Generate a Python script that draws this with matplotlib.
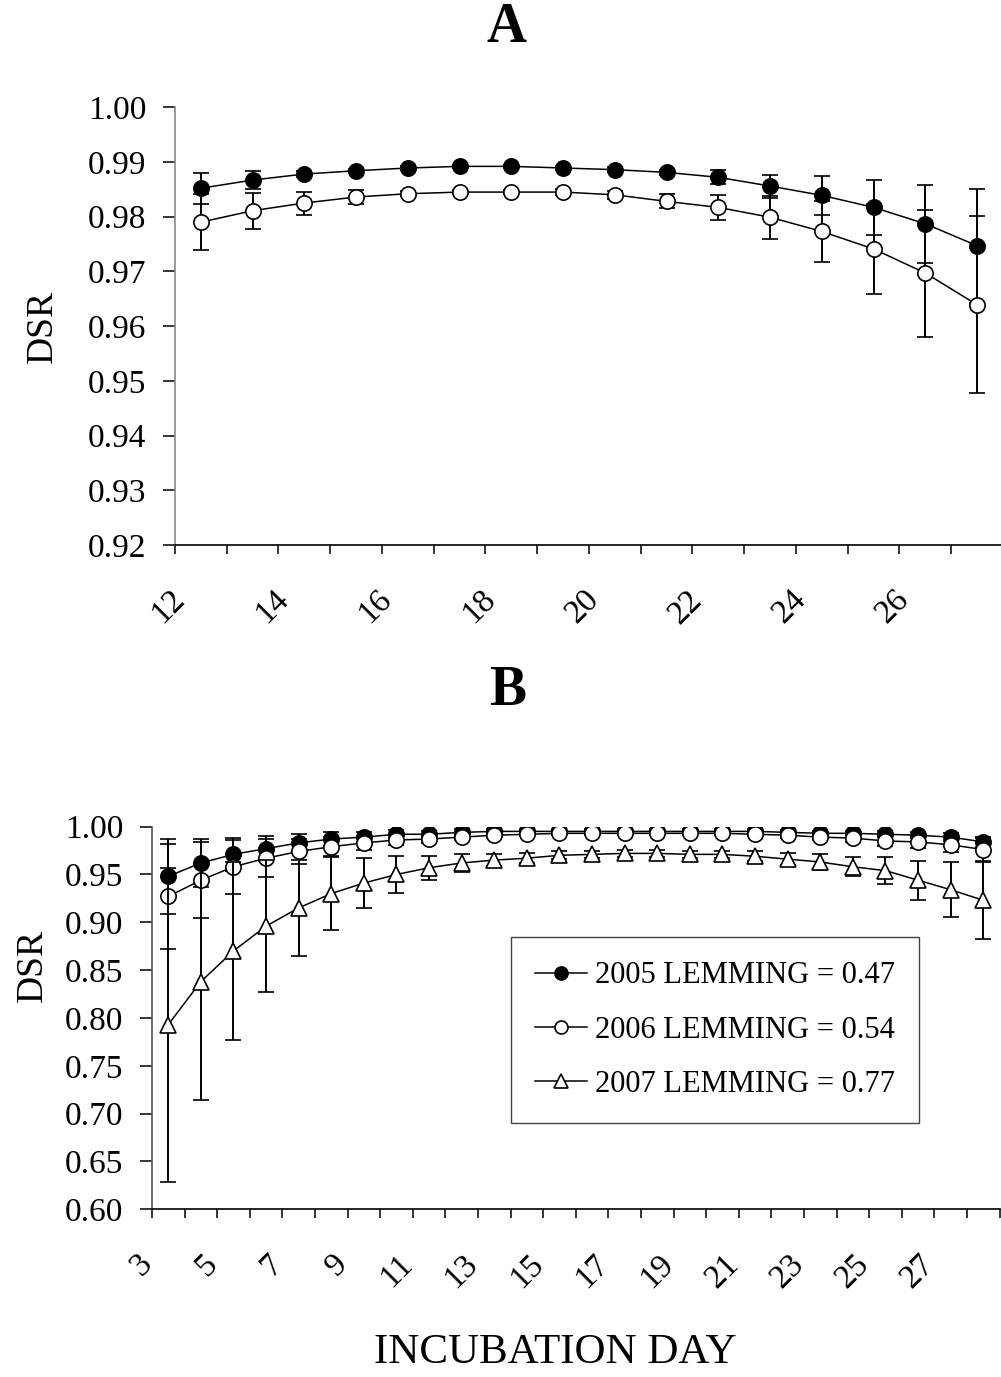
import numpy as np
import matplotlib.pyplot as plt
from matplotlib.ticker import FixedLocator, NullFormatter, FormatStrFormatter
from matplotlib.transforms import ScaledTranslation

plt.rcParams['font.family'] = ['Liberation Serif', 'DejaVu Serif']

# ---- panel A data (incubation days 12..27) ----
days_a = list(range(12, 28))
a05 = [0.9852, 0.9867, 0.9878, 0.9884, 0.9889, 0.9892, 0.9892, 0.9889,
       0.9886, 0.9881, 0.9872, 0.9856, 0.9839, 0.9817, 0.9787, 0.9747]
a05_err = [0.0028, 0.0016, 0.0006, 0.0004, 0.0003, 0.0003, 0.0003, 0.0003,
           0.0004, 0.0005, 0.0013, 0.0021, 0.0035, 0.0050, 0.0071, 0.0104]
a06 = [0.9790, 0.9811, 0.9825, 0.9836, 0.9842, 0.9845, 0.9845, 0.9845,
       0.9840, 0.9828, 0.9817, 0.9799, 0.9773, 0.9741, 0.9697, 0.9639]
a06_err = [0.0051, 0.0033, 0.0021, 0.0013, 0.0005, 0.0004, 0.0004, 0.0005,
           0.0007, 0.0013, 0.0023, 0.0039, 0.0055, 0.0083, 0.0116, 0.0162]

# ---- panel B data (incubation days 3..28) ----
days_b = list(range(3, 29))
b05 = [0.948, 0.962, 0.971, 0.977, 0.983, 0.987, 0.989, 0.992, 0.992, 0.994,
       0.995, 0.995, 0.995, 0.995, 0.995, 0.995, 0.995, 0.995, 0.995, 0.994,
       0.993, 0.993, 0.992, 0.991, 0.989, 0.984]
b05_err = [0.039, 0.025, 0.017, 0.013, 0.009, 0.007, 0.005, 0.004, 0.003, 0.003,
           0.002, 0.002, 0.002, 0.002, 0.002, 0.002, 0.002, 0.002, 0.002, 0.002,
           0.002, 0.002, 0.003, 0.003, 0.004, 0.005]
b06 = [0.927, 0.944, 0.958, 0.967, 0.974, 0.979, 0.983, 0.986, 0.987, 0.989,
       0.991, 0.992, 0.993, 0.993, 0.993, 0.993, 0.993, 0.993, 0.992, 0.991,
       0.989, 0.988, 0.985, 0.984, 0.981, 0.976]
b06_err = [0.055, 0.040, 0.028, 0.020, 0.0135, 0.010, 0.007, 0.005, 0.004, 0.003,
           0.003, 0.002, 0.002, 0.002, 0.002, 0.002, 0.002, 0.002, 0.002, 0.003,
           0.003, 0.004, 0.005, 0.006, 0.008, 0.012]
b07 = [0.793, 0.838, 0.870, 0.896, 0.915, 0.930, 0.941, 0.950, 0.957, 0.962,
       0.965, 0.967, 0.970, 0.971, 0.972, 0.972, 0.971, 0.971, 0.969, 0.966,
       0.963, 0.958, 0.954, 0.944, 0.934, 0.923]
b07_err = [0.164, 0.124, 0.093, 0.069, 0.050, 0.038, 0.026, 0.019, 0.0125, 0.009,
           0.006, 0.005, 0.004, 0.004, 0.004, 0.004, 0.004, 0.004, 0.005, 0.006,
           0.008, 0.010, 0.0145, 0.0205, 0.029, 0.040]

years = ['2005', '2006', '2007']
lemming = [0.47, 0.54, 0.77]

fig = plt.figure(figsize=(10.01, 13.77), dpi=100)
axA = fig.add_axes([0.1748, 0.6042, 0.8272, 0.3179])
axB = fig.add_axes([0.1518, 0.1218, 0.8468, 0.2779])

styles = [dict(marker='o', mfc='black', ms=11),
          dict(marker='o', mfc='white', ms=11),
          dict(marker='^', mfc='white', ms=12)]


def draw(ax, days, series):
    x = np.arange(len(days))
    handles = []
    for i, (y, e) in enumerate(series):
        st = styles[i]
        c = ax.errorbar(x, y, yerr=e, color='black', lw=1.1, marker=st['marker'],
                        ms=st['ms'], mfc=st['mfc'], mec='black', mew=1.2,
                        elinewidth=1.4, capsize=6, capthick=1.4, zorder=2 + i)
        handles.append(c.lines[0])
    return handles


def style_axis(ax, days, spine_color, ylim, ystep):
    n = len(days)
    ax.set_xlim(-0.5, n - 0.5)
    ax.set_ylim(*ylim)
    ax.spines['top'].set_visible(False)
    ax.spines['right'].set_visible(False)
    ax.spines['left'].set_color(spine_color)
    ax.spines['left'].set_linewidth(1.2)
    ax.spines['bottom'].set_linewidth(1.2)
    # category boundaries get the tick marks, every other category gets a label
    ax.xaxis.set_major_locator(FixedLocator(np.arange(n + 1) - 0.5))
    ax.xaxis.set_major_formatter(NullFormatter())
    ax.tick_params(axis='x', which='major', direction='out', length=6.5, width=1.1)
    pos = np.arange(0, n, 2)
    ax.set_xticks(pos, [str(days[p]) for p in pos], minor=True,
                  rotation=45, ha='right', va='center', rotation_mode='anchor')
    ax.tick_params(axis='x', which='minor', length=0, pad=36, labelsize=24)
    off = ScaledTranslation(-0.21, 0, fig.dpi_scale_trans)
    for lab in ax.get_xticklabels(minor=True):
        lab.set_transform(lab.get_transform() + off)
    ax.set_yticks(np.arange(ylim[0], ylim[1] + ystep / 2, ystep))
    ax.yaxis.set_major_formatter(FormatStrFormatter('%.2f'))
    ax.tick_params(axis='y', direction='out', length=8.5, width=1.1, pad=12,
                   labelsize=24)


draw(axA, days_a, [(a05, a05_err), (a06, a06_err)])
style_axis(axA, days_a, '#888888', (0.92, 1.0), 0.01)
axA.set_ylabel('DSR', fontsize=27)
axA.yaxis.set_label_coords(-0.139, 0.5)

hB = draw(axB, days_b, [(b05, b05_err), (b06, b06_err), (b07, b07_err)])
style_axis(axB, days_b, '#555555', (0.60, 1.0), 0.05)
axB.set_ylabel('DSR', fontsize=27)
axB.yaxis.set_label_coords(-0.120, 0.6385)

labels = [f'{y} LEMMING = {v:.2f}' for y, v in zip(years, lemming)]
leg = axB.legend(hB, labels, loc='upper left', bbox_to_anchor=(511 / 1001, 1 - 937 / 1377),
                 bbox_transform=fig.transFigure, borderaxespad=0, fontsize=22,
                 handlelength=1.7, handletextpad=0.25, labelspacing=0.82,
                 borderpad=0.8, markerscale=0.85, fancybox=False, framealpha=1)
leg.get_frame().set_edgecolor('#444444')
leg.get_frame().set_linewidth(1.0)

fig.text(0.5055, 0.980, 'A', fontsize=40, fontweight='bold', ha='center', va='center')
fig.text(0.5075, 0.4985, 'B', fontsize=40, fontweight='bold', ha='center', va='center')
fig.text(0.5544, 0.0176, 'INCUBATION DAY', fontsize=31, ha='center', va='center')

fig.savefig('out.png', dpi=100)
